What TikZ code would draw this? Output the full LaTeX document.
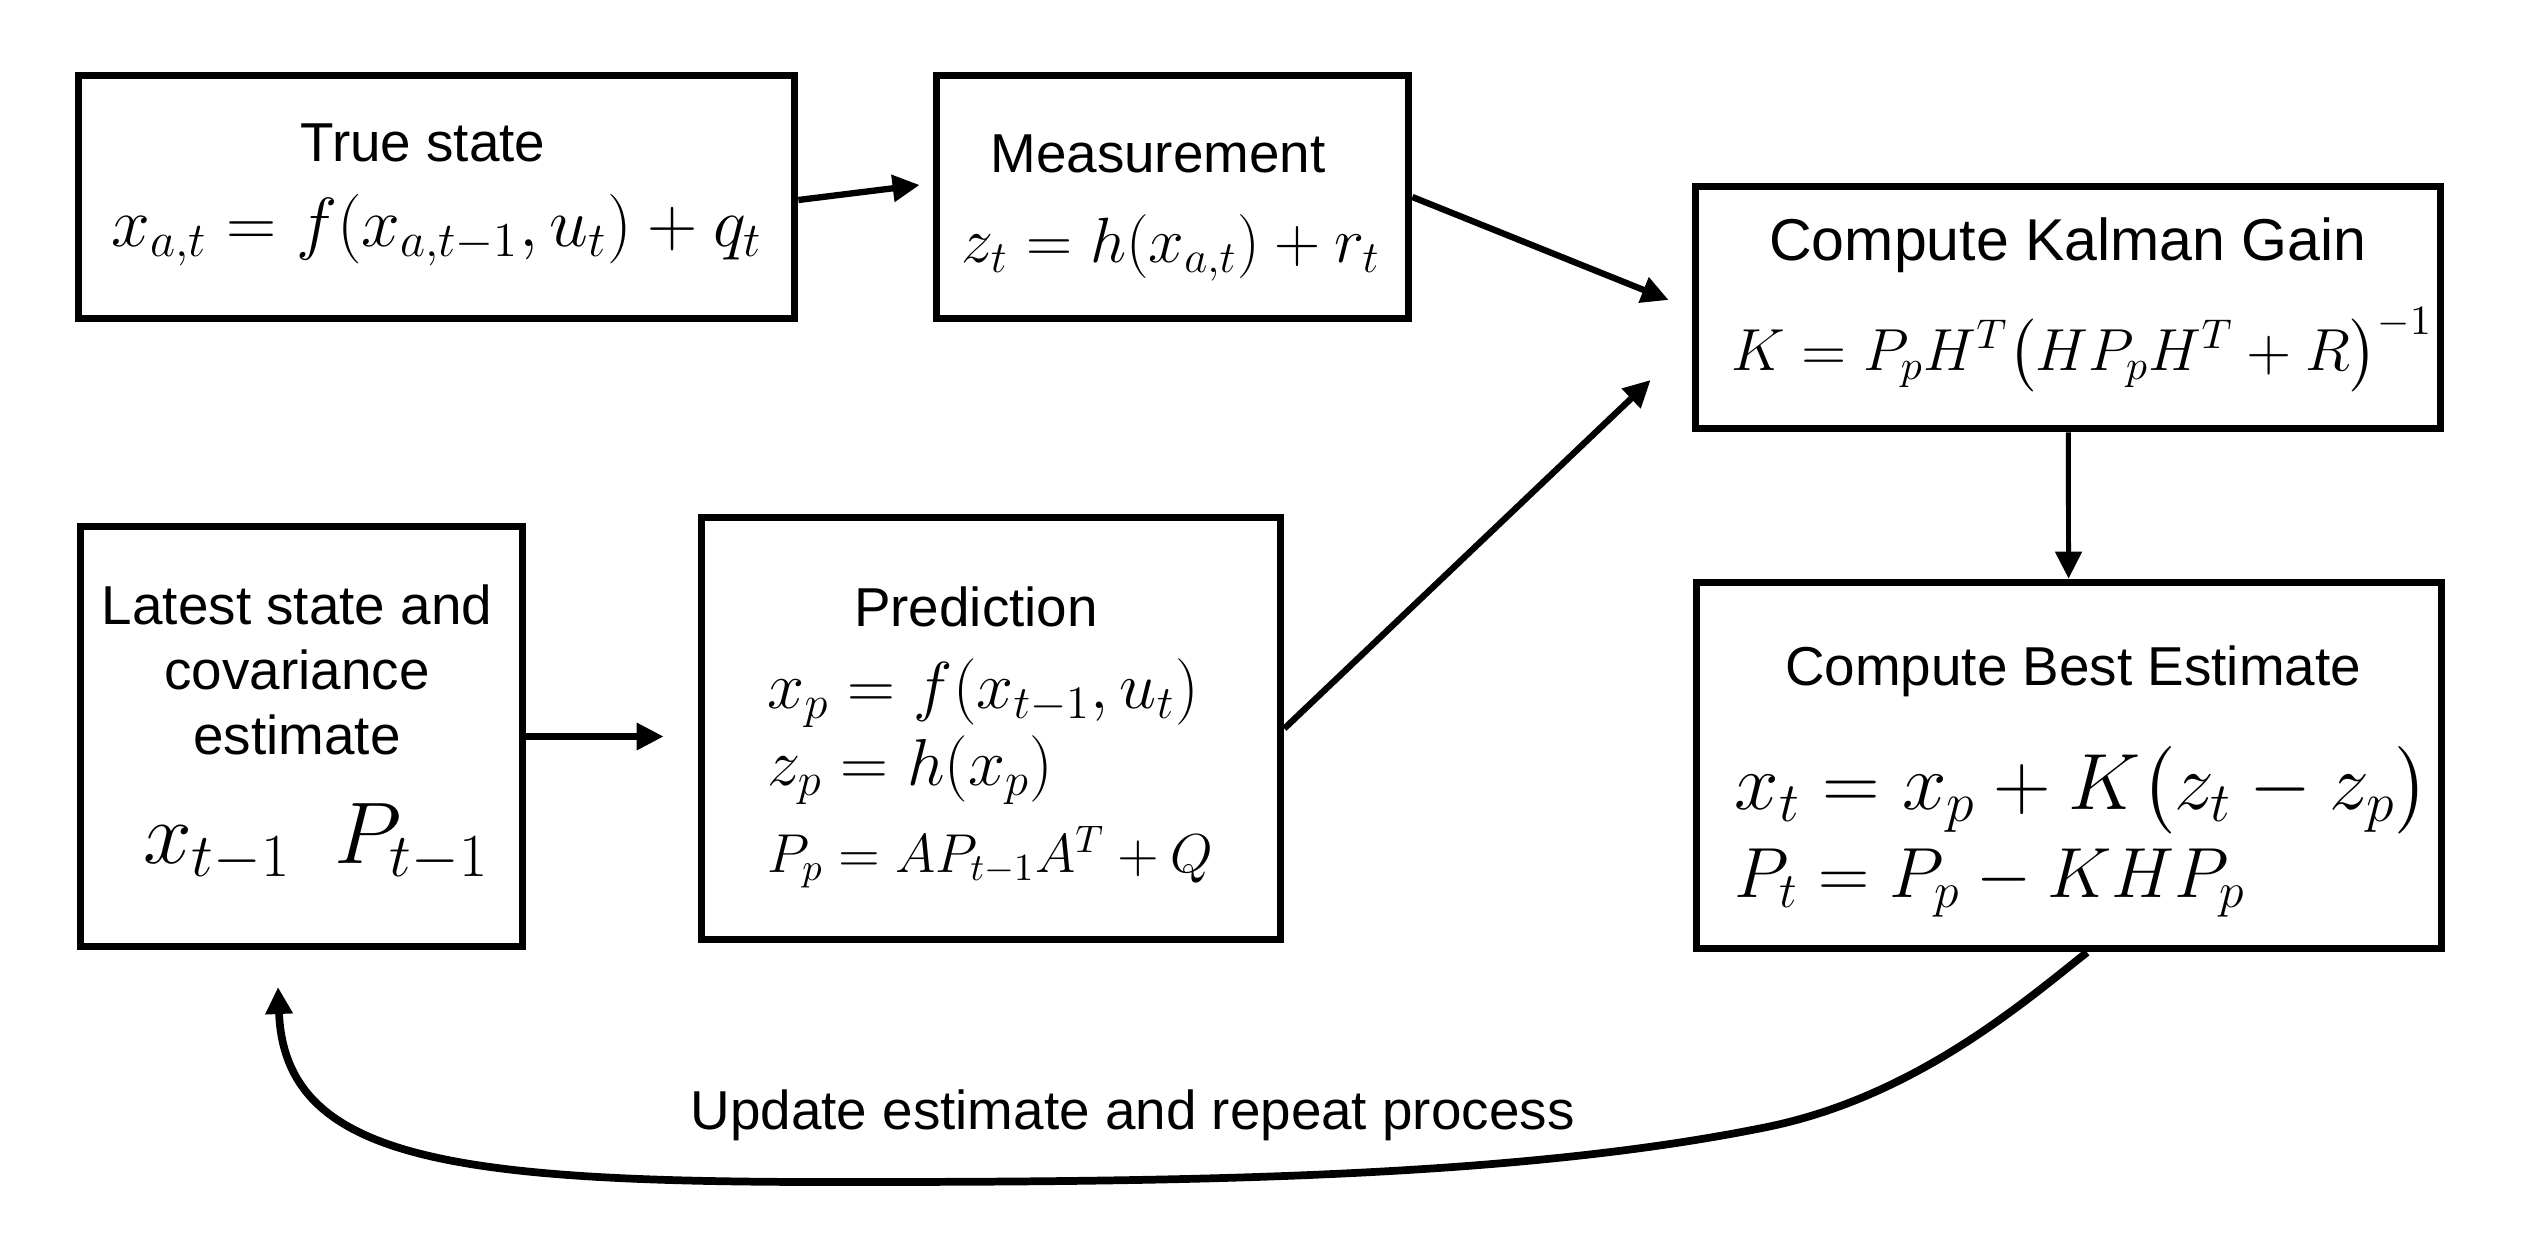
\RequirePackage{fix-cm}
\documentclass[tikz,border=0pt]{standalone}
\usepackage{amsmath}
\usepackage{fontspec}
\setmainfont{Liberation Sans}
\usetikzlibrary{arrows.meta}

\tikzset{
  stepbox/.style={draw, line width=2.2pt, inner sep=0pt},
  title/.style={font=\fontsize{15.6}{18.5}\selectfont},
  eq/.style={inner sep=0pt, font=\fontsize{18.9}{22}\selectfont},
  flow/.style={-{Triangle[length=0.27cm,width=0.26cm]}, line width=1.8pt},
}

\begin{document}
\begin{tikzpicture}
    \useasboundingbox (0,0) rectangle (25.34,12.52);

    % boxes
    \node[stepbox, minimum width=7.16cm, minimum height=2.43cm] (truestate) at (4.365,10.55) {};
    \node[stepbox, minimum width=4.72cm, minimum height=2.43cm] (measure) at (11.725,10.55) {};
    \node[stepbox, minimum width=7.45cm, minimum height=2.42cm] (kalman) at (20.68,9.445) {};
    \node[stepbox, minimum width=4.42cm, minimum height=4.20cm] (latest) at (3.015,5.155) {};
    \node[stepbox, minimum width=5.79cm, minimum height=4.22cm] (predict) at (9.91,5.235) {};
    \node[stepbox, minimum width=7.45cm, minimum height=3.66cm] (best) at (20.69,4.865) {};

    % texts
    \node[title] (truetitle) at (4.23,11.09) {True state};
    \node[eq, font=\fontsize{19.8}{23}\selectfont] (trueeq) at (4.37,10.22) {$x_{a,t} = f(x_{a,t-1}, u_t) + q_t$};

    \node[title] (meastitle) at (11.58,10.98) {Measurement};
    \node[eq, font=\fontsize{18.2}{21}\selectfont] (measeq) at (11.71,10.04) {$z_t = h(x_{a,t}) + r_t$};

    \node[title, font=\fontsize{16.8}{19.5}\selectfont] (kaltitle) at (20.68,10.07) {Compute Kalman Gain};
    \node[eq, font=\fontsize{16.9}{20}\selectfont] (kaleq) at (20.82,9.02) {$K = P_p H^T \bigl(H P_p H^T + R\bigr)^{-1}$};

    \node[title, align=center] (lattitle) at (2.97,5.82) {Latest state and\\covariance\\estimate};
    \node[eq, font=\fontsize{24.9}{29}\selectfont] (lateq) at (3.16,4.09) {$x_{t-1} \enspace P_{t-1}$};

    \node[title] (predtitle) at (9.76,6.45) {Prediction};
    \node[eq, anchor=west] (predx) at (7.67,5.59) {$x_p = f(x_{t-1}, u_t)$};
    \node[eq, anchor=west] (predz) at (7.67,4.82) {$z_p = h(x_p)$};
    \node[eq, anchor=west, font=\fontsize{15.6}{18}\selectfont] (predP) at (7.67,3.95) {$P_p = A P_{t-1} A^T + Q$};

    \node[title] (besttitle) at (20.73,5.81) {Compute Best Estimate};
    \node[eq, anchor=west, font=\fontsize{22.7}{26}\selectfont] (bestx) at (17.34,4.62) {$x_t = x_p + K\bigl(z_t - z_p\bigr)$};
    \node[eq, anchor=west, font=\fontsize{20.2}{24}\selectfont] (bestP) at (17.34,3.69) {$P_t = P_p - K H P_p$};

    \node[title, anchor=base west, inner sep=0pt] (looplabel) at (6.90,1.23) {Update estimate and repeat process};

    % connectors
    \draw[flow] ([yshift=-0.03cm]truestate.east) -- ([xshift=-0.13cm, yshift=0.12cm]measure.west);
    \draw[flow] (measure.east) -- ([xshift=-0.23cm, yshift=0.075cm]kalman.west);
    \draw[flow] (predict.east) -- ([xshift=-0.41cm, yshift=-0.725cm]kalman.west);
    \draw[flow, line width=1.4pt] (kalman) -- (best);
    \draw[flow, shorten >=0.34cm] (latest.east) -- (latest.east -| predict.west);

    \coordinate (back) at (2.78,2.65);
    \draw[flow, line width=2.2pt] ([xshift=0.18cm]best.south)
        .. controls (20.23,2.49) and (19.14,1.55) .. (17.67,1.25)
        .. controls (15.22,0.75) and (12.0,0.70) .. (8.56,0.70)
        .. controls (4.56,0.69) and (2.85,0.9) .. (back);
\end{tikzpicture}
\end{document}
